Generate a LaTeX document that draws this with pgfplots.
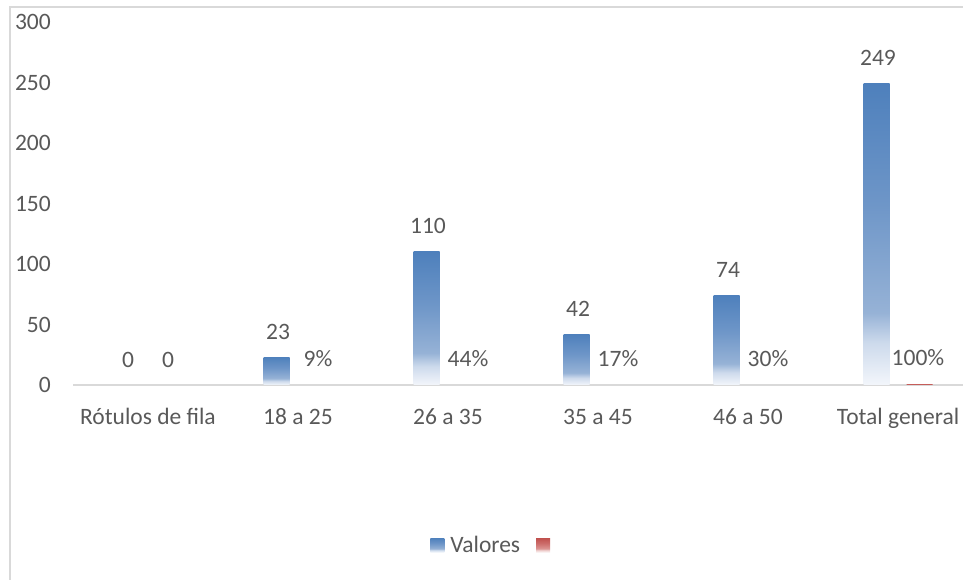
\documentclass[border=0pt]{standalone}
\usepackage{fontspec}
\setmainfont{Carlito}
\usepackage{pgfplots}
\pgfplotsset{compat=1.18}
\definecolor{txtgray}{RGB}{89,89,89}
\definecolor{lingray}{RGB}{217,217,217}
\definecolor{bT}{RGB}{78,128,188}
\definecolor{bM}{RGB}{110,150,200}
\definecolor{b3}{RGB}{150,178,214}
\definecolor{b2}{RGB}{205,218,236}
\definecolor{bB}{RGB}{243,246,251}
\definecolor{rT}{RGB}{192,80,77}
\definecolor{rM}{RGB}{205,110,108}
\definecolor{r3}{RGB}{220,150,148}
\definecolor{r2}{RGB}{238,205,204}
\definecolor{rB}{RGB}{251,243,243}
\pgfdeclareverticalshading{bluegrad}{100bp}{color(0bp)=(bB); color(25bp)=(bB); color(32bp)=(b2); color(37bp)=(b3); color(55bp)=(bM); color(75bp)=(bT); color(100bp)=(bT)}
\pgfdeclareverticalshading{redgrad}{100bp}{color(0bp)=(rB); color(25bp)=(rB); color(32bp)=(r2); color(37bp)=(r3); color(55bp)=(rM); color(75bp)=(rT); color(100bp)=(rT)}
\pgfplotsset{
  bluebar/.style={ybar, bar shift=-21.5bp, draw=none, shading=bluegrad,
    every node near coord/.append style={xshift=-20bp},
    legend image code/.code={\shade[shading=bluegrad] (0bp,-7bp) rectangle (14bp,7bp);}},
  redbar/.style={ybar, bar shift=21.5bp, draw=none, shading=redgrad,
    every node near coord/.append style={xshift=20bp},
    legend image code/.code={\shade[shading=redgrad] (0bp,-7bp) rectangle (14bp,7bp);}},
}
\begin{document}
\begin{tikzpicture}
\useasboundingbox (0,0) rectangle (963bp,580bp);
\draw[lingray, line width=1.8bp] (10bp,0) -- (10bp,573bp) -- (963bp,573bp);
\begin{axis}[
  at={(73bp,195bp)}, anchor=south west,
  scale only axis, width=889.5bp, height=363bp,
  xmin=-0.5, xmax=5.43, ymin=0, ymax=300,
  clip=false,
  axis x line=bottom, axis y line=left,
  x axis line style={draw=lingray, line width=1.5bp, -},
  y axis line style={draw=none},
  major tick length=0pt,
  xtick={0,1,2,3,4,5},
  xticklabels={R\'otulos de fila,18 a 25,26 a 35,35 a 45,46 a 50,Total general},
  ytick={0,50,100,150,200,250,300},
  /pgf/number format/assume math mode=true,
  ticklabel style={font=\fontsize{23.5bp}{28bp}\selectfont, text=txtgray},
  xticklabel style={anchor=base, inner sep=0pt, yshift=-39bp},
  yticklabel style={anchor=east, inner sep=0pt, xshift=-22bp},
  bar width=26bp,
  nodes near coords,
  point meta=explicit symbolic,
  every node near coord/.append style={anchor=base, inner sep=0pt, yshift=18bp, font=\fontsize{23.5bp}{28bp}\selectfont, text=txtgray},
  legend columns=2,
  legend style={draw=none, fill=none, at={(0.473,-0.441)}, anchor=center,
    font=\fontsize{23.5bp}{28bp}\selectfont, text=txtgray,
    column sep=0bp,
    /tikz/every odd column/.append style={column sep=6bp},
    /tikz/every even column/.append style={column sep=16bp},
    nodes={inner sep=0pt}},
]
% Series "Valores" (counts)
\addplot[bluebar] coordinates {(0,0)[0]};
\addlegendentry{Valores}
% second series (shares)
\addplot[redbar] coordinates {(0,0)[0]};
\addlegendentry{\mbox{}}
\addplot[bluebar, forget plot] coordinates {(1,23)[23]};
\addplot[bluebar, forget plot] coordinates {(2,110)[110]};
\addplot[bluebar, forget plot] coordinates {(3,42)[42]};
\addplot[bluebar, forget plot] coordinates {(4,74)[74]};
\addplot[bluebar, forget plot] coordinates {(5,249)[249]};
\addplot[redbar, forget plot] coordinates {(1,0.09)[9\%]};
\addplot[redbar, forget plot] coordinates {(2,0.44)[44\%]};
\addplot[redbar, forget plot] coordinates {(3,0.17)[17\%]};
\addplot[redbar, forget plot] coordinates {(4,0.30)[30\%]};
\addplot[redbar, forget plot] coordinates {(5,1)[100\%]};
\end{axis}
\end{tikzpicture}
\end{document}
